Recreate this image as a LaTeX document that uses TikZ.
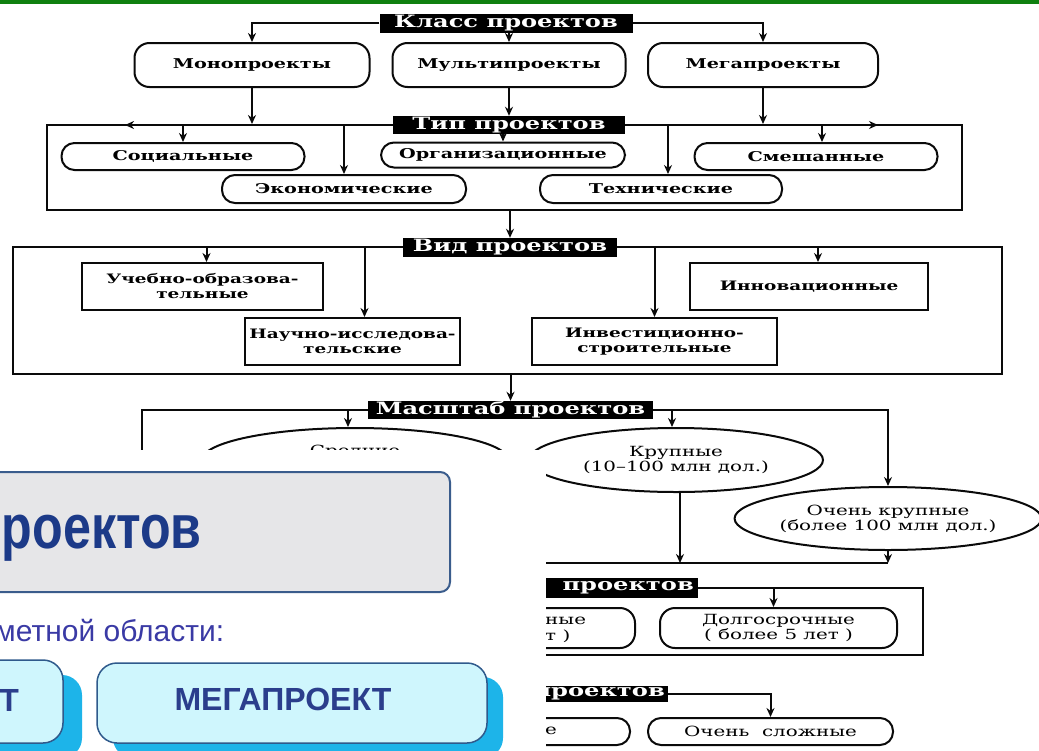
\documentclass[tikz,border=0pt]{standalone}
\usepackage{fontspec}
\setmainfont{DejaVu Serif}
\newfontfamily\scan[FakeStretch=1.42]{DejaVu Serif}
\newfontfamily\panelsans{Liberation Sans}
\newfontfamily\panelnarrow[FakeStretch=0.81]{Liberation Sans}
\usetikzlibrary{arrows.meta,shapes.geometric,shapes.misc,calc}

\definecolor{ink}{RGB}{10,10,10}
\definecolor{topgreen}{RGB}{16,128,16}
\definecolor{panelgray}{RGB}{230,230,232}
\definecolor{panelborder}{RGB}{58,92,140}
\definecolor{titleblue}{RGB}{28,58,136}
\definecolor{subblue}{RGB}{58,58,165}
\definecolor{btnfill}{RGB}{207,246,253}
\definecolor{btnborder}{RGB}{47,90,140}
\definecolor{btnshadow}{RGB}{29,180,233}
\definecolor{btntext}{RGB}{43,62,140}

\begin{document}
\begin{tikzpicture}[x=1pt,y=-1pt,
  conn/.style={draw=ink, line width=2pt},
  arr/.style={conn, -{Stealth[length=9pt,width=8pt]}},
  lab/.style={fill=black, text=white, inner sep=0pt, minimum height=19pt,
    font=\scan\bfseries\fontsize{17}{17}\selectfont},
  pill/.style={draw=ink, line width=2pt, rounded corners=13pt, inner sep=0pt,
    font=\scan\bfseries\fontsize{13.5}{15}\selectfont},
  rbox/.style={draw=ink, line width=2pt, inner sep=0pt, align=center,
    font=\scan\bfseries\fontsize{13}{15}\selectfont},
  oval/.style={ellipse, draw=ink, line width=2pt, inner sep=0pt, align=center,
    font=\scan\fontsize{14}{15}\selectfont},
  frm/.style={draw=ink, line width=2pt, inner sep=0pt},
  frag/.style={inner sep=0pt, font=\scan\fontsize{14}{15}\selectfont},
  button/.style={draw=btnborder, fill=btnfill, line width=1.5pt, rounded corners=20pt},
]
\useasboundingbox (0,0) rectangle (1039,750);
\clip (0,0) rectangle (1039,750);
\fill[white] (0,0) rectangle (1039,750);
\fill[topgreen] (0,0) rectangle (1039,3.5);

% ---------- class of projects ----------
\node[pill, rounded corners=15pt, minimum width=235pt, minimum height=44pt] (mono) at (252,65) {Монопроекты};
\node[pill, rounded corners=15pt, minimum width=233pt, minimum height=44pt] (multi) at (509,65) {Мультипроекты};
\node[pill, rounded corners=15pt, minimum width=230pt, minimum height=44pt] (mega) at (763,65) {Мегапроекты};
\node[lab, minimum width=253pt] (klass) at (506,23) {Класс проектов};
\draw[arr] (klass.west) -| (mono.north);
\draw[arr] (multi.north |- klass.south) -- (multi.north);
\draw[arr] (klass.east) -| (mega.north);

% ---------- type of projects ----------
\node[frm, minimum width=915pt, minimum height=85pt] (tipbox) at (504.5,167.5) {};
\node[pill, minimum width=243pt, minimum height=27pt] (soc) at (183,156.5) {Социальные};
\node[pill, minimum width=244pt, minimum height=25pt] (org) at (503,155) {Организационные};
\node[pill, minimum width=243pt, minimum height=27pt] (smesh) at (816,156.5) {Смешанные};
\node[pill, minimum width=244pt, minimum height=28pt] (econ) at (344,189) {Экономические};
\node[pill, minimum width=242pt, minimum height=28pt] (tech) at (661,189) {Технические};
\node[lab, minimum width=232pt, minimum height=18pt] (tip) at (509,125) {Тип проектов};
\draw[arr] (mono.south) -- (mono.south |- tipbox.north);
\draw[arr] (multi.south) -- (multi.south |- tip.north);
\draw[arr] (mega.south) -- (mega.south |- tipbox.north);
\coordinate (tlA) at (150,125);
\coordinate (tlB) at (125,125);
\coordinate (trA) at (858,125);
\coordinate (trB) at (878,125);
\draw[arr] (tlA) -- (tlB);
\draw[arr] (trA) -- (trB);
\draw[arr] (soc.north |- tipbox.north) -- (soc.north);
\draw[arr] (econ.north |- tipbox.north) -- (econ.north);
\draw[arr] (org.north |- tip.south) -- (org.north);
\draw[arr] ([xshift=7pt]tech.north |- tipbox.north) -- ([xshift=7pt]tech.north);
\draw[arr] ([xshift=6pt]smesh.north |- tipbox.north) -- ([xshift=6pt]smesh.north);

% ---------- kind of projects ----------
\node[frm, minimum width=989pt, minimum height=127pt] (vidbox) at (507.5,310.5) {};
\node[rbox, minimum width=241pt, minimum height=47pt] (ucheb) at (202.5,286.5) {Учебно-образова-\\тельные};
\node[rbox, minimum width=215pt, minimum height=47pt] (nauch) at (352.5,341.5) {Научно-исследова-\\тельские};
\node[rbox, minimum width=238pt, minimum height=47pt] (innov) at (809,286.5) {Инновационные};
\node[rbox, minimum width=245pt, minimum height=47pt] (invest) at (654.5,341.5) {Инвестиционно-\\строительные};
\node[lab, minimum width=214pt] (vid) at (510,247.5) {Вид проектов};
\draw[arr] (tipbox.south -| vid.north) -- (vid.north);
\draw[arr] ([xshift=4pt]ucheb.north |- vidbox.north) -- ([xshift=4pt]ucheb.north);
\draw[arr] ([xshift=12pt]nauch.north |- vidbox.north) -- ([xshift=12pt]nauch.north);
\draw[arr] (invest.north |- vidbox.north) -- (invest.north);
\draw[arr] ([xshift=9pt]innov.north |- vidbox.north) -- ([xshift=9pt]innov.north);

% ---------- scale of projects ----------
\node[oval, minimum width=306pt, minimum height=64pt] (sred) at (355,460) {};
\node[frag] (sredtxt) at (355,452) {Средние};
\node[oval, minimum width=294pt, minimum height=64pt] (krup) at (676,460) {Крупные\\(10–100 млн дол.)};
\node[oval, minimum width=300pt, minimum height=63pt] (vkrup) at (888,518.5) {Очень крупные\\(более 100 млн дол.)};
\node[lab, minimum width=285pt, minimum height=18pt] (masht) at (510.5,410) {Масштаб проектов};
\draw[arr] (vidbox.south -| masht.north) -- (masht.north);
\coordinate (mTL) at (142,410);
\coordinate (mBL) at (142,563);
\draw[conn] (masht.west) -- (mTL) -- (mBL) -- (mBL -| vkrup.south);
\draw[arr] (masht.east) -| (vkrup.north);
\draw[arr] (vkrup.south) -- (vkrup.south |- mBL);
\draw[arr] ([xshift=4pt]krup.south) -- ([xshift=4pt]krup.south |- mBL);
\draw[arr] ([xshift=-7pt]sred.north |- masht.east) -- ([xshift=-7pt]sred.north);
\draw[arr] ([xshift=-4pt]krup.north |- masht.east) -- ([xshift=-4pt]krup.north);

% ---------- duration of projects ----------
\node[pill, rounded corners=15pt, minimum width=237pt, minimum height=40pt] (sredsrok) at (516.5,628) {};
\node[frag, anchor=west] (sredsrokA) at (545,621) {ные};
\node[frag, anchor=west] (sredsrokB) at (545,636) {т )};
\node[pill, rounded corners=15pt, minimum width=237pt, minimum height=40pt, align=center,
      font=\scan\fontsize{14}{15}\selectfont] (dolg) at (778.5,628) {Долгосрочные\\( более 5 лет )};
\node[lab, anchor=east, minimum height=20pt] (srok) at (698,588) {\hspace*{60pt}проектов\hspace*{4pt}};
\coordinate (sTR) at (923,588);
\coordinate (sBR) at (923,655);
\coordinate (sBL) at (470,655);
\draw[conn] (srok.east) -- (sTR) -- (sBR) -- (sBL);
\draw[arr] ([xshift=-5pt]dolg.north |- srok.east) -- ([xshift=-5pt]dolg.north);

% ---------- complexity of projects ----------
\node[pill, minimum width=245pt, minimum height=27pt] (prostye) at (507.5,731.5) {};
\node[frag, anchor=west] (prostyeA) at (545,731) {е};
\node[pill, minimum width=245pt, minimum height=27pt,
      font=\scan\fontsize{14}{15}\selectfont] (ochsl) at (770.5,731.5) {Очень\ \ сложные};
\node[lab, anchor=east, minimum height=16pt] (slozh) at (668,694) {\hspace*{60pt}проектов\hspace*{3pt}};
\draw[arr] (slozh.east) -| (ochsl.north);

% ---------- slide panel laid over the scheme ----------
\fill[white] (0,450) rectangle (546,750);
\draw[panelborder, fill=panelgray, line width=2pt, rounded corners=10pt] (-20,472) rectangle (450,592);
\node[anchor=base east, inner sep=0pt, text=titleblue,
      font=\panelnarrow\bfseries\fontsize{62}{62}\selectfont] (ptitle) at (202,548) {проектов};
\node[anchor=base west, inner sep=0pt, text=subblue,
      font=\panelsans\fontsize{30}{30}\selectfont] (psub) at (-5,641) {метной области:};

\fill[btnshadow, rounded corners=20pt] (-44,675) rectangle (82,758);
\draw[button] (-60,660) rectangle (63,743);
\node[anchor=base east, inner sep=0pt, text=btntext,
      font=\panelsans\bfseries\fontsize{32}{32}\selectfont] (btnA) at (19,711) {Т};

\fill[btnshadow, rounded corners=20pt] (113,677) rectangle (503,758);
\draw[button] (97,663) rectangle (487,743);
\node[inner sep=0pt, text=btntext,
      font=\panelsans\bfseries\fontsize{32}{32}\selectfont] (btnB) at (283,699) {МЕГАПРОЕКТ};
\end{tikzpicture}
\end{document}
